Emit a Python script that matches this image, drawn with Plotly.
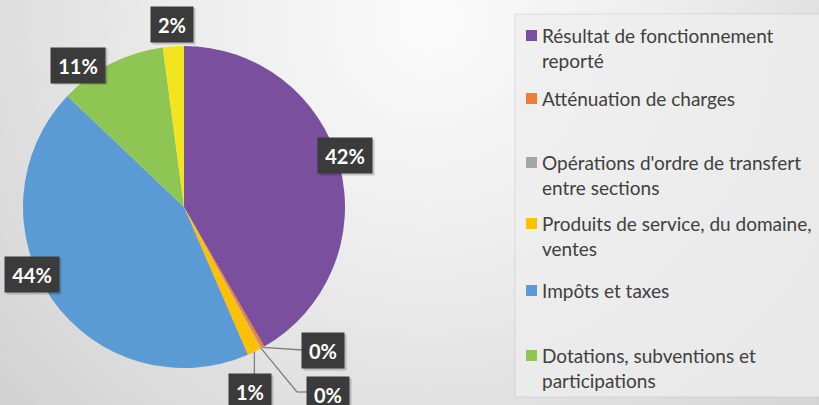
import math
import base64
import plotly.graph_objects as go

# ---------------- data ----------------
categories = [
    "Résultat de fonctionnement reporté",
    "Atténuation de charges",
    "Opérations d'ordre de transfert entre sections",
    "Produits de service, du domaine, ventes",
    "Impôts et taxes",
    "Dotations, subventions et participations",
    "Autres produits de gestion courante",
]
values = [41.7, 0.3, 0.1, 1.4, 43.6, 10.8, 2.1]
colors = ["#7A4F9E", "#ED7D31", "#A5A5A5", "#FFC000", "#5B9BD5", "#8FC553", "#F2E51E"]
legend_labels = [
    "Résultat de fonctionnement<br>reporté",
    "Atténuation de charges",
    "Opérations d'ordre de transfert<br>entre sections",
    "Produits de service, du domaine,<br>ventes",
    "Impôts et taxes",
    "Dotations, subventions et<br>participations",
]

# ---------------- layout helpers (pixels -> paper) ----------------
W, H = 819, 405
def px(x):
    return x / W
def py(y):
    return 1 - y / H

CX, CY, R = 184, 207, 161  # pie centre / radius in pixels

# label box centres (pixels)
label_pos = [(345, 155.5), (323, 350), (328, 394), (250, 391.5), (32, 274.5), (78, 65), (172, 24.5)]

total = sum(values)
pct = [f"{round(v / total * 100)}%" for v in values]

# slice mid angles (clockwise from 12 o'clock)
mid = []
acc = 0
for v in values:
    a0 = acc / total * 360
    acc += v
    a1 = acc / total * 360
    mid.append((a0 + a1) / 2)

def rim(angle_deg):
    a = math.radians(angle_deg)
    return CX + R * math.sin(a), CY - R * math.cos(a)

fig = go.Figure()
fig.add_trace(go.Pie(
    labels=categories,
    values=values,
    sort=False,
    direction="clockwise",
    rotation=0,
    marker=dict(colors=colors, line=dict(width=0)),
    textinfo="none",
    hoverinfo="label+percent",
    showlegend=False,
    domain=dict(x=[px(CX - R), px(CX + R)], y=[py(CY + R), py(CY - R)]),
))

# background gradient
svg = (
    "<svg xmlns='http://www.w3.org/2000/svg' width='819' height='405'>"
    "<defs><radialGradient id='g' cx='430' cy='20' r='560' gradientUnits='userSpaceOnUse'>"
    "<stop offset='0' stop-color='#fbfbfb'/><stop offset='0.45' stop-color='#ececec'/>"
    "<stop offset='1' stop-color='#d3d3d3'/></radialGradient></defs>"
    "<rect width='819' height='405' fill='url(#g)'/></svg>"
)
src = "data:image/svg+xml;base64," + base64.b64encode(svg.encode()).decode()

shapes = []
annotations = []

# legend panel
shapes.append(dict(type="rect", xref="paper", yref="paper",
                   x0=px(515), x1=px(822), y0=py(397), y1=py(14),
                   fillcolor="rgba(238,238,238,0.75)",
                   line=dict(color="rgba(180,180,180,0.35)", width=1), layer="below"))

# leader lines for small slices
def line(x0, y0, x1, y1):
    shapes.append(dict(type="line", xref="paper", yref="paper",
                       x0=px(x0), y0=py(y0), x1=px(x1), y1=py(y1),
                       line=dict(color="#7f7f7f", width=1.3)))

sx, sy = rim(mid[1])
lx, ly = label_pos[1]
line(sx, sy, lx - 21, ly)
sx, sy = rim(mid[2])
lx, ly = label_pos[2]
line(sx, sy, lx - 31, ly - 2)
line(lx - 31, ly - 2, lx - 21, ly - 2)
sx, sy = rim(mid[3])
lx, ly = label_pos[3]
line(sx, sy, sx, ly - 17)

# data labels
for (lx, ly), t in zip(label_pos, pct):
    w = 46 if len(t) == 3 else 34
    annotations.append(dict(
        x=px(lx + 2), y=py(ly + 2), xref="paper", yref="paper",
        xanchor="center", yanchor="middle", showarrow=False,
        text=" ", width=w, height=27, borderpad=4,
        bgcolor="rgba(0,0,0,0.18)"))
    annotations.append(dict(
        x=px(lx), y=py(ly), xref="paper", yref="paper",
        xanchor="center", yanchor="middle", showarrow=False,
        text=f"<b>{t}</b>", width=w, height=27, borderpad=4,
        bgcolor="#3b3b3b",
        font=dict(family="Lato, Open Sans, sans-serif", size=20, color="white")))

# custom legend
legend_y = [35, 98, 162, 223, 290, 355]
for lab, c, ly in zip(legend_labels, colors, legend_y):
    shapes.append(dict(type="rect", xref="paper", yref="paper",
                       x0=px(526), x1=px(537), y0=py(ly + 6), y1=py(ly - 5),
                       fillcolor=c, line=dict(width=0)))
    annotations.append(dict(
        x=px(540), y=py(ly - 13), xref="paper", yref="paper",
        xanchor="left", yanchor="top", align="left", showarrow=False,
        text=lab,
        font=dict(family="Lato, Open Sans, sans-serif", size=19, color="#404040")))

fig.update_layout(
    width=W, height=H,
    margin=dict(l=0, r=0, t=0, b=0),
    paper_bgcolor="#e4e4e4",
    plot_bgcolor="rgba(0,0,0,0)",
    images=[dict(source=src, xref="paper", yref="paper", x=0, y=1,
                 sizex=1, sizey=1, sizing="stretch", xanchor="left",
                 yanchor="top", layer="below")],
    shapes=shapes,
    annotations=annotations,
    showlegend=False,
)

fig.write_html("out.html",
               config={"displayModeBar": False},
               post_script="document.body.style.margin='0';document.body.style.overflow='hidden';")
